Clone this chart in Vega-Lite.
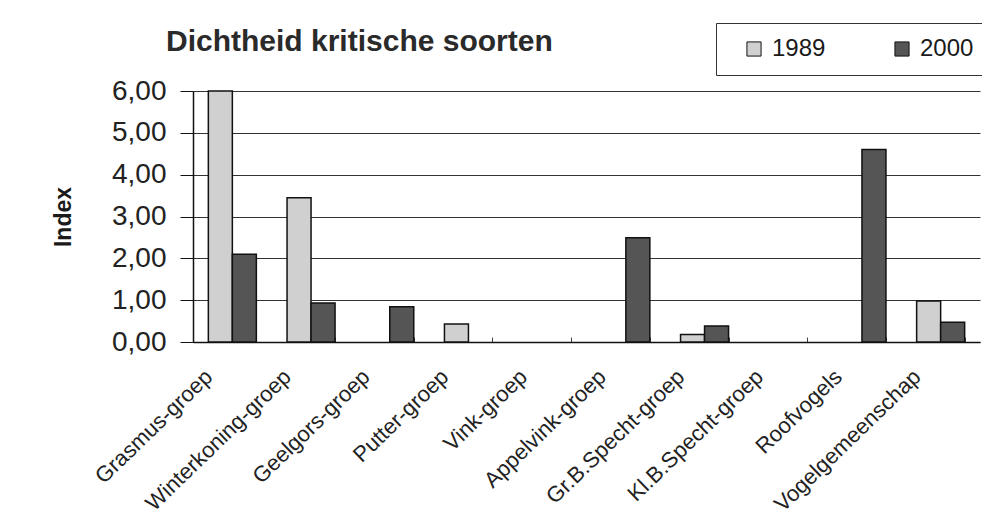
{
  "$schema": "https://vega.github.io/schema/vega-lite/v6.json",
  "width": 787,
  "height": 251,
  "autosize": {"type": "none"},
  "padding": {"left": 193, "top": 91, "right": 2, "bottom": 176},
  "background": "white",
  "title": {
    "text": "Dichtheid kritische soorten",
    "anchor": "start",
    "frame": "group",
    "baseline": "alphabetic",
    "dx": -27,
    "dy": 58,
    "offset": 0,
    "font": "Liberation Sans",
    "fontSize": 30,
    "fontWeight": "bold",
    "color": "#2a2a2a"
  },
  "data": {
    "values": [
      {"groep": "Grasmus-groep", "jaar": "1989", "index": 6.0},
      {"groep": "Grasmus-groep", "jaar": "2000", "index": 2.1},
      {"groep": "Winterkoning-groep", "jaar": "1989", "index": 3.45},
      {"groep": "Winterkoning-groep", "jaar": "2000", "index": 0.93},
      {"groep": "Geelgors-groep", "jaar": "1989", "index": 0},
      {"groep": "Geelgors-groep", "jaar": "2000", "index": 0.84},
      {"groep": "Putter-groep", "jaar": "1989", "index": 0.43},
      {"groep": "Putter-groep", "jaar": "2000", "index": 0},
      {"groep": "Vink-groep", "jaar": "1989", "index": 0},
      {"groep": "Vink-groep", "jaar": "2000", "index": 0},
      {"groep": "Appelvink-groep", "jaar": "1989", "index": 0},
      {"groep": "Appelvink-groep", "jaar": "2000", "index": 2.49},
      {"groep": "Gr.B.Specht-groep", "jaar": "1989", "index": 0.18},
      {"groep": "Gr.B.Specht-groep", "jaar": "2000", "index": 0.38},
      {"groep": "Kl.B.Specht-groep", "jaar": "1989", "index": 0},
      {"groep": "Kl.B.Specht-groep", "jaar": "2000", "index": 0},
      {"groep": "Roofvogels", "jaar": "1989", "index": 0},
      {"groep": "Roofvogels", "jaar": "2000", "index": 4.6},
      {"groep": "Vogelgemeenschap", "jaar": "1989", "index": 0.98},
      {"groep": "Vogelgemeenschap", "jaar": "2000", "index": 0.47}
    ]
  },
  "mark": {"type": "bar", "stroke": "#111", "strokeWidth": 1.5},
  "encoding": {
    "x": {
      "field": "groep",
      "type": "nominal",
      "sort": null,
      "scale": {"paddingInner": 0.39, "paddingOuter": 0.195},
      "axis": {
        "title": null,
        "labelAngle": -44,
        "labelAlign": "right",
        "labelBaseline": "middle",
        "labelFont": "Liberation Sans",
        "labelFontSize": 22,
        "labelColor": "#222",
        "labelPadding": 36,
        "labelOffset": -24,
        "labelLimit": 300,
        "domainColor": "#111",
        "domainWidth": 1.5,
        "tickBand": "extent",
        "tickColor": "#444",
        "tickSize": -5,
        "grid": false
      }
    },
    "xOffset": {"field": "jaar", "type": "nominal"},
    "y": {
      "field": "index",
      "type": "quantitative",
      "scale": {"domain": [0, 6], "nice": false},
      "axis": {
        "title": "Index",
        "titleFont": "Liberation Sans",
        "titleFontSize": 23,
        "titleFontWeight": "bold",
        "titleColor": "#1a1a1a",
        "titlePadding": 36,
        "values": [0, 1, 2, 3, 4, 5, 6],
        "format": ".2f",
        "labelFont": "Liberation Sans",
        "labelFontSize": 28,
        "labelColor": "#222",
        "labelPadding": 14,
        "tickSize": 13,
        "tickColor": "#111",
        "domainColor": "#111",
        "domainWidth": 1.5,
        "grid": true,
        "gridColor": "#333",
        "gridWidth": 1.2
      }
    },
    "fill": {
      "field": "jaar",
      "type": "nominal",
      "scale": {"domain": ["1989", "2000"], "range": ["#d0d0d0", "#555555"]},
      "legend": {
        "title": " ",
        "titleOrient": "left",
        "titleFontSize": 24,
        "titlePadding": 12,
        "orient": "none",
        "legendX": 523,
        "legendY": -68,
        "direction": "horizontal",
        "symbolType": "square",
        "symbolSize": 200,
        "symbolStrokeColor": "#111",
        "symbolStrokeWidth": 1,
        "labelFont": "Liberation Sans",
        "labelFontSize": 24,
        "labelColor": "#1a1a1a",
        "labelOffset": 6,
        "columnPadding": 64,
        "strokeColor": "#333",
        "padding": 14,
        "fillColor": "white"
      }
    },
    "strokeOpacity": {
      "condition": {"test": "datum.index == 0", "value": 0},
      "value": 1
    }
  },
  "config": {
    "view": {"stroke": null},
    "locale": {
      "number": {"decimal": ",", "thousands": ".", "grouping": [3], "currency": ["€", ""]}
    }
  }
}
